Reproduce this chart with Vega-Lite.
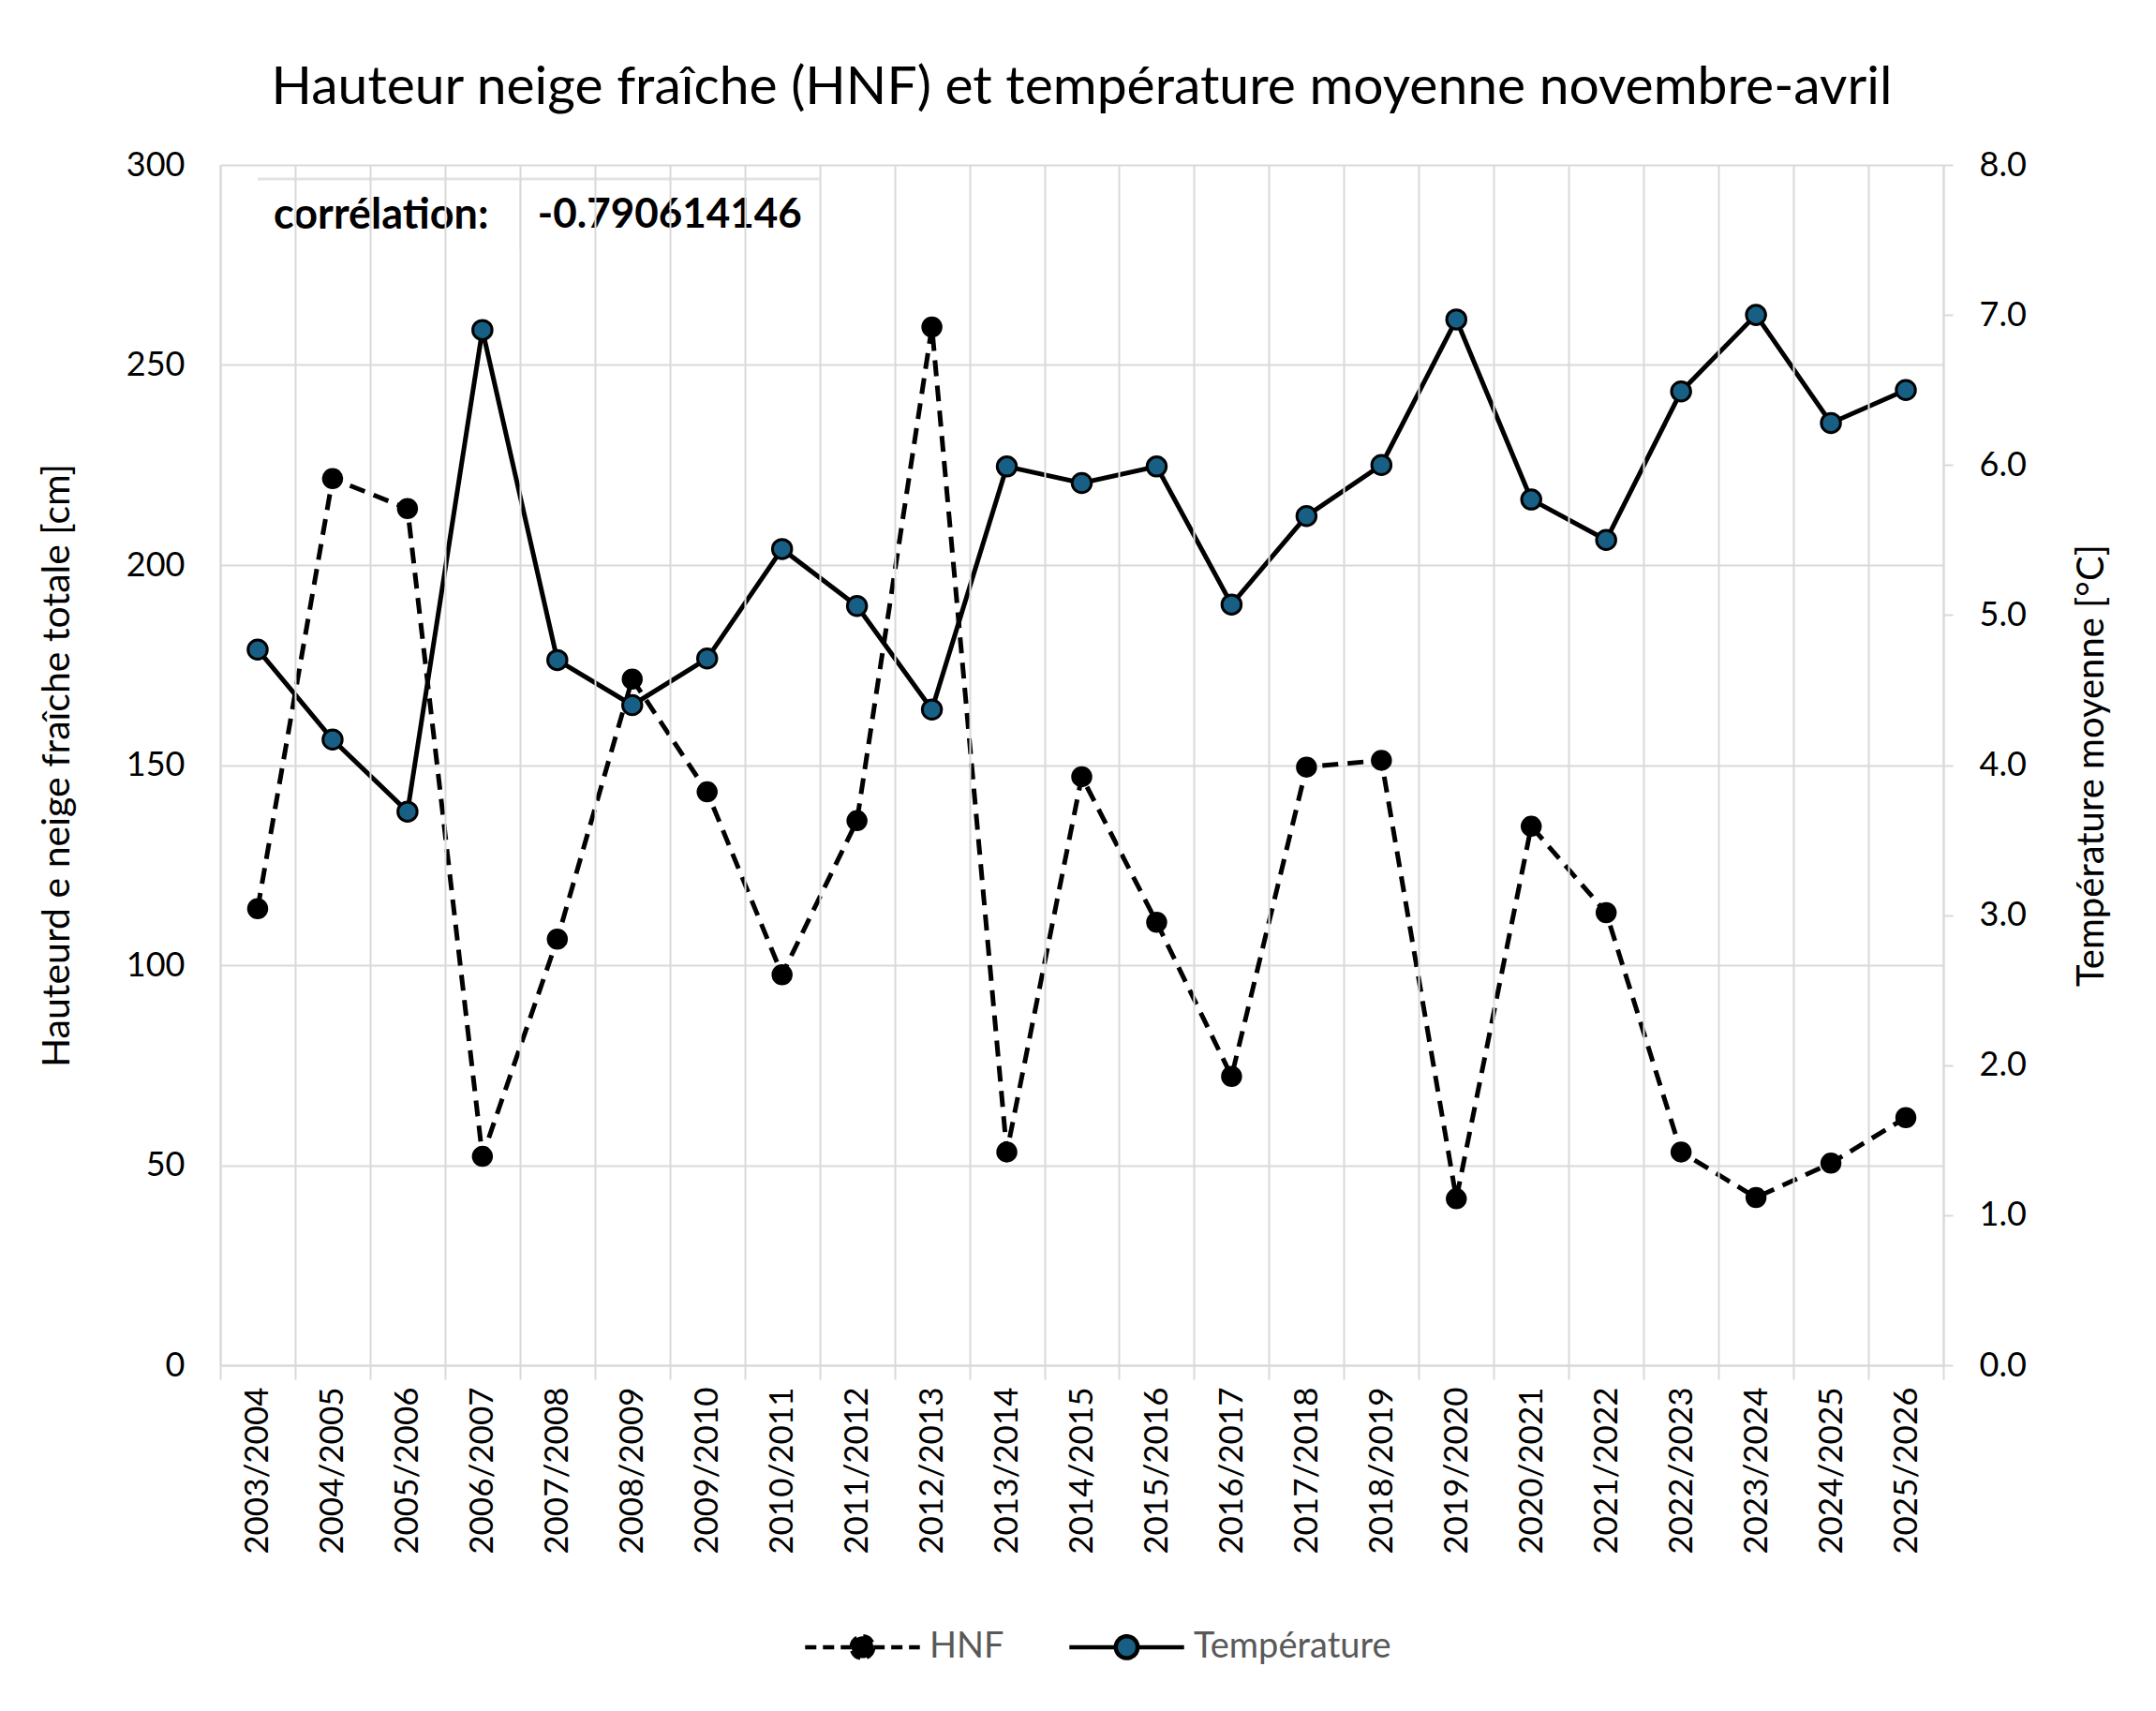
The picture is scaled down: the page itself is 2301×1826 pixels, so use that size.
{
  "$schema": "https://vega.github.io/schema/vega-lite/v6.json",
  "width": 1839,
  "height": 1281,
  "autosize": {"type": "none"},
  "padding": {"left": 235, "top": 176, "right": 227, "bottom": 369},
  "background": "white",
  "title": {"text": "Hauteur neige fraîche (HNF) et température moyenne novembre-avril", "font": "Lato", "fontSize": 57, "fontWeight": "normal", "color": "black", "offset": 35, "anchor": "middle"},
  "datasets": {
    "main": [
      {"saison": "2003/2004", "serie": "HNF", "valeur": 114.1},
      {"saison": "2004/2005", "serie": "HNF", "valeur": 221.6},
      {"saison": "2005/2006", "serie": "HNF", "valeur": 214.1},
      {"saison": "2006/2007", "serie": "HNF", "valeur": 52.2},
      {"saison": "2007/2008", "serie": "HNF", "valeur": 106.5},
      {"saison": "2008/2009", "serie": "HNF", "valeur": 171.5},
      {"saison": "2009/2010", "serie": "HNF", "valeur": 143.3},
      {"saison": "2010/2011", "serie": "HNF", "valeur": 97.6},
      {"saison": "2011/2012", "serie": "HNF", "valeur": 136.1},
      {"saison": "2012/2013", "serie": "HNF", "valeur": 259.5},
      {"saison": "2013/2014", "serie": "HNF", "valeur": 53.3},
      {"saison": "2014/2015", "serie": "HNF", "valeur": 147.1},
      {"saison": "2015/2016", "serie": "HNF", "valeur": 110.7},
      {"saison": "2016/2017", "serie": "HNF", "valeur": 72.2},
      {"saison": "2017/2018", "serie": "HNF", "valeur": 149.5},
      {"saison": "2018/2019", "serie": "HNF", "valeur": 151.2},
      {"saison": "2019/2020", "serie": "HNF", "valeur": 41.6},
      {"saison": "2020/2021", "serie": "HNF", "valeur": 134.7},
      {"saison": "2021/2022", "serie": "HNF", "valeur": 113.1},
      {"saison": "2022/2023", "serie": "HNF", "valeur": 53.3},
      {"saison": "2023/2024", "serie": "HNF", "valeur": 41.9},
      {"saison": "2024/2025", "serie": "HNF", "valeur": 50.5},
      {"saison": "2025/2026", "serie": "HNF", "valeur": 61.9},
      {"saison": "2003/2004", "serie": "Température", "valeur": 4.77},
      {"saison": "2004/2005", "serie": "Température", "valeur": 4.17},
      {"saison": "2005/2006", "serie": "Température", "valeur": 3.69},
      {"saison": "2006/2007", "serie": "Température", "valeur": 6.9},
      {"saison": "2007/2008", "serie": "Température", "valeur": 4.7},
      {"saison": "2008/2009", "serie": "Température", "valeur": 4.4},
      {"saison": "2009/2010", "serie": "Température", "valeur": 4.71},
      {"saison": "2010/2011", "serie": "Température", "valeur": 5.44},
      {"saison": "2011/2012", "serie": "Température", "valeur": 5.06},
      {"saison": "2012/2013", "serie": "Température", "valeur": 4.37},
      {"saison": "2013/2014", "serie": "Température", "valeur": 5.99},
      {"saison": "2014/2015", "serie": "Température", "valeur": 5.88},
      {"saison": "2015/2016", "serie": "Température", "valeur": 5.99},
      {"saison": "2016/2017", "serie": "Température", "valeur": 5.07},
      {"saison": "2017/2018", "serie": "Température", "valeur": 5.66},
      {"saison": "2018/2019", "serie": "Température", "valeur": 6.0},
      {"saison": "2019/2020", "serie": "Température", "valeur": 6.97},
      {"saison": "2020/2021", "serie": "Température", "valeur": 5.77},
      {"saison": "2021/2022", "serie": "Température", "valeur": 5.5},
      {"saison": "2022/2023", "serie": "Température", "valeur": 6.49},
      {"saison": "2023/2024", "serie": "Température", "valeur": 7.0},
      {"saison": "2024/2025", "serie": "Température", "valeur": 6.28},
      {"saison": "2025/2026", "serie": "Température", "valeur": 6.5}
    ]
  },
  "data": {"name": "main"},
  "encoding": {
    "x": {
      "field": "saison", "type": "ordinal", "sort": null,
      "scale": {"paddingInner": 0, "paddingOuter": 0, "domain": ["2003/2004", "2004/2005", "2005/2006", "2006/2007", "2007/2008", "2008/2009", "2009/2010", "2010/2011", "2011/2012", "2012/2013", "2013/2014", "2014/2015", "2015/2016", "2016/2017", "2017/2018", "2018/2019", "2019/2020", "2020/2021", "2021/2022", "2022/2023", "2023/2024", "2024/2025", "2025/2026"]},
      "axis": {
        "title": null, "labelAngle": -90, "labelFont": "Lato", "labelFontSize": 35, "labelColor": "black",
        "labelPadding": 8, "tickBand": "extent", "tickSize": 15, "tickColor": "#d9d9d9", "tickWidth": 2,
        "grid": true, "gridColor": "#d9d9d9", "gridWidth": 2, "domainColor": "#d9d9d9", "domainWidth": 2
      }
    }
  },
  "layer": [
    {
      "encoding": {
        "y": {
          "field": "valeur", "type": "quantitative",
          "scale": {"domain": [0, 300], "nice": false},
          "axis": {
            "title": "Hauteurd e neige fraîche totale [cm]", "titleFont": "Lato", "titleFontSize": 41, "titleFontWeight": "normal", "titleColor": "black", "titlePadding": 52,
            "values": [0, 50, 100, 150, 200, 250, 300], "labelFont": "Lato", "labelFontSize": 36, "labelColor": "black", "labelPadding": 38,
            "ticks": false, "grid": true, "gridColor": "#d9d9d9", "gridWidth": 2, "domainColor": "#d9d9d9", "domainWidth": 2
          }
        }
      },
      "layer": [
        {
          "transform": [{"filter": "datum.serie === 'HNF' && datum.saison === '2003/2004'"}],
          "mark": {"type": "rect", "fill": "white"},
          "encoding": {
            "x": {"datum": "2003/2004", "bandPosition": 0.5},
            "x2": {"datum": "2011/2012", "bandPosition": 0},
            "y": {"datum": 296.5},
            "y2": {"datum": 278.7}
          }
        },
        {
          "transform": [{"filter": "datum.serie === 'HNF' && datum.saison === '2003/2004'"}],
          "mark": {"type": "rule", "color": "#e3e3e3", "strokeWidth": 3},
          "encoding": {
            "x": {"datum": "2003/2004", "bandPosition": 0.5},
            "x2": {"datum": "2011/2012", "bandPosition": 0},
            "y": {"datum": 296.5}
          }
        },
        {
          "transform": [{"filter": "datum.serie === 'HNF' && datum.saison === '2003/2004'"}],
          "mark": {"type": "rule", "color": "#eeeeee", "strokeWidth": 1.5},
          "encoding": {
            "x": {"datum": "2007/2008", "bandPosition": 0},
            "y": {"datum": 296.5},
            "y2": {"datum": 278.7}
          }
        },
        {
          "transform": [{"filter": "datum.serie === 'HNF' && datum.saison === '2003/2004'"}],
          "mark": {"type": "text", "text": "corrélation:", "font": "Lato", "fontWeight": "bold", "fontSize": 45, "align": "left", "baseline": "middle", "dx": 17, "color": "black"},
          "encoding": {"x": {"datum": "2003/2004"}, "y": {"datum": 287.3}}
        },
        {
          "transform": [{"filter": "datum.serie === 'HNF' && datum.saison === '2003/2004'"}],
          "mark": {"type": "text", "text": "-0.790614146", "font": "Lato", "fontWeight": "bold", "fontSize": 44, "align": "left", "baseline": "middle", "dx": -21, "color": "black"},
          "encoding": {"x": {"datum": "2007/2008"}, "y": {"datum": 287.3}}
        },
        {
          "transform": [{"filter": "datum.serie === 'HNF'"}],
          "mark": {"type": "line", "color": "black", "strokeWidth": 5, "strokeDash": [17, 10]},
          "encoding": {"y": {"field": "valeur", "type": "quantitative"}}
        },
        {
          "transform": [{"filter": "datum.serie === 'HNF'"}],
          "mark": {"type": "point", "filled": true, "shape": "circle", "size": 420, "stroke": "black", "strokeWidth": 2, "opacity": 1},
          "encoding": {
            "y": {"field": "valeur", "type": "quantitative"},
            "fill": {
              "field": "serie", "type": "nominal",
              "scale": {"domain": ["HNF", "Température"], "range": ["black", "#175F84"]},
              "legend": {
                "orient": "none", "legendX": 654, "legendY": 1550, "direction": "horizontal", "title": null,
                "symbolType": "M -2.1 0 L -0.4 0 M 0.4 0 L 2.1 0 M -0.4 0 A 0.4 0.4 0 1 1 0.4 0 A 0.4 0.4 0 1 1 -0.4 0 Z",
                "symbolSize": 3400, "symbolStrokeColor": "black", "symbolStrokeWidth": 4.5, "symbolOpacity": 1,
                "labelFont": "Lato", "labelFontSize": 38, "labelColor": "#595959", "labelOffset": 40, "labelLimit": 400, "columnPadding": 60,
                "encode": {"symbols": {"update": {"strokeDash": {"signal": "datum.value === 'HNF' ? [12, 7] : [1, 0]"}}}}
              }
            }
          }
        }
      ]
    },
    {
      "transform": [{"filter": "datum.serie === 'Température'"}],
      "encoding": {
        "y": {
          "field": "valeur", "type": "quantitative",
          "scale": {"domain": [0, 8], "nice": false},
          "axis": {
            "orient": "right", "title": "Température moyenne [°C]", "titleFont": "Lato", "titleFontSize": 40, "titleFontWeight": "normal", "titleColor": "black", "titlePadding": 50, "titleAngle": 270, "titleBaseline": "top",
            "values": [0, 1, 2, 3, 4, 5, 6, 7, 8], "format": ".1f", "labelFont": "Lato", "labelFontSize": 36, "labelColor": "black", "labelPadding": 28,
            "ticks": true, "tickSize": 10, "tickColor": "#d9d9d9", "tickWidth": 2, "grid": false, "domainColor": "#d9d9d9", "domainWidth": 2
          }
        }
      },
      "layer": [
        {
          "mark": {"type": "line", "color": "black", "strokeWidth": 5},
          "encoding": {"y": {"field": "valeur", "type": "quantitative"}}
        },
        {
          "mark": {"type": "point", "filled": true, "shape": "circle", "size": 420, "stroke": "black", "strokeWidth": 3, "opacity": 1},
          "encoding": {
            "y": {"field": "valeur", "type": "quantitative"},
            "fill": {"field": "serie", "type": "nominal"}
          }
        }
      ]
    }
  ],
  "resolve": {"scale": {"y": "independent"}},
  "config": {"view": {"stroke": null}}
}
